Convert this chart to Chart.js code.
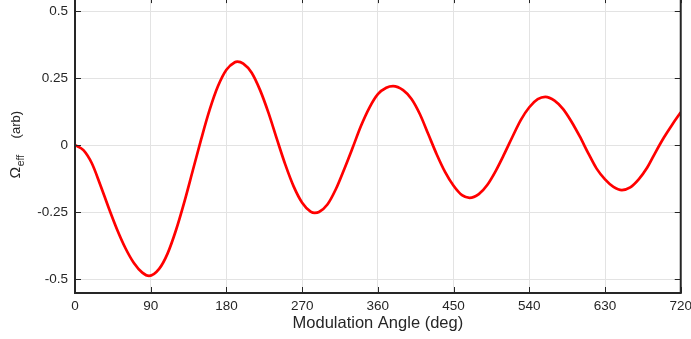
<!DOCTYPE html>
<html>
<head>
<meta charset="utf-8">
<script src="https://cdn.jsdelivr.net/npm/chart.js@4.4.1/dist/chart.umd.min.js"></script>
<style>
  html, body { margin: 0; padding: 0; background: #fff; overflow: hidden; }
  #wrap { position: absolute; left: 0; top: -18px; width: 697px; height: 357px; }
</style>
</head>
<body>
<div id="wrap"><canvas id="chart" width="697" height="357"></canvas></div>
<script>

// modulation angle (deg) and effective Rabi value
const angles = [0, 10, 20, 30, 40, 50, 60, 70, 80, 88, 100, 110, 120, 130, 140, 150, 160, 170, 180, 190, 193,
  200, 210, 220, 230, 240, 250, 260, 270, 280, 285, 290, 300, 310, 320, 330, 340, 350, 360, 370, 378,
  390, 400, 410, 420, 430, 440, 450, 460, 469, 480, 490, 500, 510, 520, 530, 540, 550, 559,
  570, 580, 590, 600, 610, 620, 630, 640, 650, 660, 670, 680, 690, 700, 710, 720];

const omega = [0, -0.019, -0.068, -0.148, -0.234, -0.315, -0.385, -0.44, -0.476, -0.488, -0.462, -0.405, -0.318, -0.212, -0.095, 0.022, 0.131, 0.22, 0.281, 0.309, 0.311,
  0.304, 0.27, 0.205, 0.12, 0.022, -0.073, -0.155, -0.215, -0.248, -0.253, -0.25, -0.222, -0.165, -0.09, -0.01, 0.072, 0.14, 0.19, 0.214, 0.22,
  0.205, 0.172, 0.115, 0.04, -0.035, -0.101, -0.152, -0.187, -0.197, -0.183, -0.149, -0.097, -0.035, 0.031, 0.094, 0.141, 0.171, 0.18,
  0.166, 0.135, 0.088, 0.032, -0.03, -0.088, -0.128, -0.156, -0.168, -0.158, -0.128, -0.085, -0.027, 0.028, 0.077, 0.122];

const xTicks = [0, 90, 180, 270, 360, 450, 540, 630, 720];
const yTicks = [-0.5, -0.25, 0, 0.25, 0.5];
const yTickLabels = ["-0.5", "-0.25", "0", "0.25", "0.5"];

const axisColor = "#262626";
const fontFamily = "'Liberation Sans', Arial, Helvetica, sans-serif";

Chart.defaults.font.family = fontFamily;
Chart.defaults.color = axisColor;

// box, inner ticks and axis titles, MATLAB style
const frame = {
  id: "frame",
  afterDraw(c) {
    const ctx = c.ctx;
    const a = c.chartArea;
    const xs = c.scales.x, ys = c.scales.y;
    ctx.save();
    ctx.strokeStyle = axisColor;
    ctx.lineWidth = 2;
    ctx.strokeRect(a.left, a.top, a.right - a.left, a.bottom - a.top);
    ctx.lineWidth = 1;
    ctx.beginPath();
    xTicks.forEach(v => {
      const px = Math.round(xs.getPixelForValue(v)) + 0.5;
      ctx.moveTo(px, a.bottom); ctx.lineTo(px, a.bottom - 6);
      ctx.moveTo(px, a.top); ctx.lineTo(px, a.top + 6);
    });
    yTicks.forEach(v => {
      const py = Math.round(ys.getPixelForValue(v)) + 0.5;
      ctx.moveTo(a.left, py); ctx.lineTo(a.left + 6, py);
      ctx.moveTo(a.right, py); ctx.lineTo(a.right - 6, py);
    });
    ctx.stroke();

    ctx.fillStyle = axisColor;
    ctx.textBaseline = "alphabetic";
    ctx.textAlign = "center";
    ctx.font = "16.5px " + fontFamily;
    ctx.fillText("Modulation Angle (deg)", (a.left + a.right) / 2, a.bottom + 35);

    ctx.translate(19.5, a.top + 181.3);
    ctx.rotate(-Math.PI / 2);
    ctx.textAlign = "left";
    ctx.font = "15.5px " + fontFamily;
    ctx.fillText("Ω", 0, 0);
    const w = ctx.measureText("Ω").width;
    ctx.font = "10.5px " + fontFamily;
    ctx.fillText("eff", w + 0.5, 4.5);
    ctx.font = "13px " + fontFamily;
    ctx.fillText("(arb)", 40, 0);
    ctx.restore();
  }
};

new Chart(document.getElementById("chart"), {
  type: "line",
  data: {
    labels: angles,
    datasets: [{
      data: angles.map((a, i) => ({ x: a, y: omega[i] })),
      borderColor: "#ff0000",
      borderWidth: 2.7,
      pointRadius: 0,
      fill: false,
      cubicInterpolationMode: "monotone"
    }]
  },
  options: {
    responsive: false,
    animation: false,
    devicePixelRatio: 1,
    layout: { padding: { top: 7, right: 11, left: 0, bottom: 0 } },
    plugins: { legend: { display: false }, tooltip: { enabled: false } },
    scales: {
      x: {
        type: "linear",
        min: 0,
        max: 720,
        afterBuildTicks: s => { s.ticks = xTicks.map(v => ({ value: v })); },
        afterFit: s => { s.height = 46; },
        grid: { color: "#e3e3e3", lineWidth: 1, drawTicks: false },
        border: { display: false },
        ticks: { padding: 5, maxRotation: 0, autoSkip: false, font: { size: 13.5 }, color: axisColor }
      },
      y: {
        type: "linear",
        min: -0.552,
        max: 0.552,
        afterBuildTicks: s => { s.ticks = yTicks.map(v => ({ value: v })); },
        afterFit: s => { s.width = 75; },
        grid: { color: "#e3e3e3", lineWidth: 1, drawTicks: false },
        border: { display: false },
        ticks: {
          padding: 7,
          font: { size: 13.5 },
          color: axisColor,
          callback: v => yTickLabels[yTicks.indexOf(v)] ?? ""
        }
      }
    }
  },
  plugins: [frame]
});
</script>
</body>
</html>
